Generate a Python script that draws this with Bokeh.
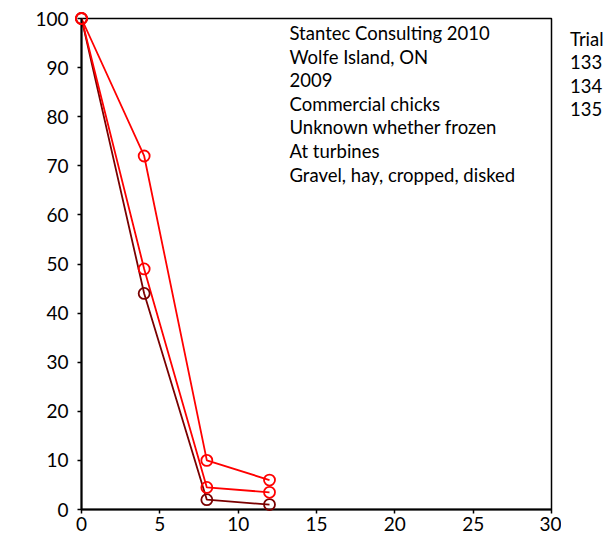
from bokeh.plotting import figure
from bokeh.models import Label, Range1d, FixedTicker, Div
from bokeh.layouts import row
from bokeh.embed import file_html
from bokeh.resources import INLINE

# Data (days vs percent remaining)
days = [0, 4, 8, 12]
trial_133 = [100, 44, 2, 1]
trial_134 = [100, 49, 4.5, 3.5]
trial_135 = [100, 72, 10, 6]
series_names = ["133", "134", "135"]
series_values = [trial_133, trial_134, trial_135]
series_colors = ["#7a0000", "#ff0000", "#ff0000"]

x_ticks = [0, 5, 10, 15, 20, 25, 30]
y_ticks = [0, 10, 20, 30, 40, 50, 60, 70, 80, 90, 100]

info_lines = [
    "Stantec Consulting 2010",
    "Wolfe Island, ON",
    "2009",
    "Commercial chicks",
    "Unknown whether frozen",
    "At turbines",
    "Gravel, hay, cropped, disked",
]
legend_title = "Trial"

FONT = "Lato"

p = figure(
    frame_width=470, frame_height=491,
    min_border_left=81, min_border_right=10, min_border_top=18, min_border_bottom=26,
    x_range=Range1d(0, 30), y_range=Range1d(0, 100),
    output_backend="svg", toolbar_location=None,
)
p.xgrid.visible = False
p.ygrid.visible = False
p.outline_line_color = "black"
p.outline_line_width = 1.5
p.background_fill_color = "white"
p.border_fill_color = "white"

for ax, ticks in ((p.xaxis[0], x_ticks), (p.yaxis[0], y_ticks)):
    ax.ticker = FixedTicker(ticks=ticks)
    ax.minor_tick_line_color = None
    ax.major_tick_in = 0
    ax.major_tick_out = 4
    ax.major_tick_line_width = 1.5
    ax.axis_line_width = 2
    ax.axis_line_color = "black"
    ax.major_tick_line_color = "black"
    ax.major_label_text_font = FONT
    ax.major_label_text_font_size = "19px"
    ax.major_label_text_color = "black"
p.yaxis[0].major_label_standoff = 9
p.xaxis[0].major_label_standoff = 3

for name, vals, col in zip(series_names, series_values, series_colors):
    p.line(days, vals, line_color=col, line_width=1.8)
    p.scatter(days, vals, marker="circle", size=11, fill_color=None,
              line_color=col, line_width=1.8, level="overlay")

# annotation block (screen offsets from the frame's bottom-left corner)
for i, t in enumerate(info_lines):
    p.add_layout(Label(x=208, y=491 - (14.5 + 23.6 * i), x_units="screen", y_units="screen",
                       text=t, text_font=FONT, text_font_size="18.5px",
                       text_baseline="middle", text_align="left", text_color="black"))

# legend text outside the plot frame
legend_div = Div(
    text="<br>".join([legend_title] + series_names),
    width=55, height=200, margin=0,
    styles={"font-family": FONT, "font-size": "18.5px", "line-height": "23.4px",
            "padding-top": "28px", "padding-left": "9px", "color": "black"},
)

layout = row(p, legend_div, spacing=0)
open("out.html", "w").write(file_html(layout, INLINE))
